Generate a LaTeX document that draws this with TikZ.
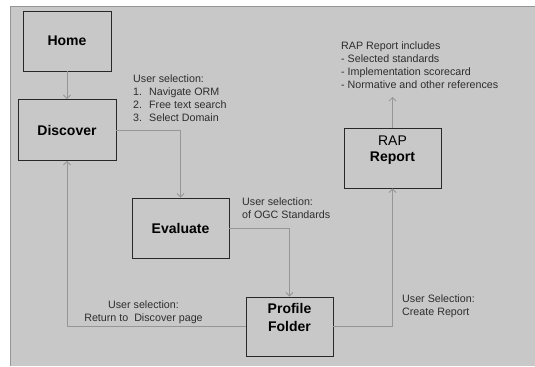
\documentclass[tikz,border=0pt]{standalone}
\usepackage{fontspec}
\setmainfont{Liberation Sans}
\usetikzlibrary{arrows.meta}
\definecolor{bg}{RGB}{200,200,200}
\definecolor{connc}{RGB}{150,150,150}
\definecolor{boxline}{RGB}{40,40,40}
\definecolor{frameline}{RGB}{150,150,150}
\definecolor{notec}{RGB}{45,45,45}
\begin{document}
\begin{tikzpicture}[x=1bp,y=-1bp,
  box/.style={draw=boxline, line width=0.9bp, fill=bg, inner sep=0pt},
  boxlabel/.style={font=\fontsize{14bp}{16bp}\selectfont\bfseries, align=center, inner sep=0pt, text=black},
  note/.style={font=\fontsize{10.7bp}{13bp}\selectfont, align=left, inner sep=0pt, anchor=base west, text=notec},
  conn/.style={draw=connc, line width=0.8bp, -{Straight Barb[length=3.5bp,width=7bp]}}
]
\useasboundingbox (0,0) rectangle (535,366);
\fill[white] (0,0) rectangle (535,366);
\fill[bg] (10,6) rectangle (535,366);
\draw[frameline, line width=0.9bp] (10,366) -- (10,6) -- (535,6);

% boxes
\node[box, minimum width=88bp, minimum height=60bp, boxlabel] (home) at (67,41) {Home};
\node[box, minimum width=98bp, minimum height=61bp, boxlabel] (disc) at (67,130) {Discover};
\node[box, minimum width=97bp, minimum height=60bp, boxlabel] (eval) at (180.5,228) {Evaluate};
\node[box, minimum width=87bp, minimum height=59bp] (pf) at (289.5,326.5) {};
\node[boxlabel, font=\fontsize{14bp}{18bp}\selectfont\bfseries] (pftext) at (289.5,317) {Profile\\Folder};
\node[box, minimum width=97bp, minimum height=60bp] (rap) at (392.5,158) {};
\node[boxlabel, font=\fontsize{14bp}{16bp}\selectfont] (raptext) at (392.5,150) {RAP\\\textbf{Report}};

% notes (anchor base = baseline of the last line)
\node[note] (n1) at (133,121) {User selection:\\\makebox[16bp][l]{1.}Navigate ORM\\\makebox[16bp][l]{2.}Free text search\\\makebox[16bp][l]{3.}Select Domain};
\node[note] (n2) at (341,88) {RAP Report includes\\- Selected standards\\- Implementation scorecard\\- Normative and other references};
\node[note] (n3) at (242,218) {User selection:\\of OGC Standards};
\node[note, align=center, anchor=base] (n4) at (143.5,321) {User selection:\\Return to\ \ Discover page};
\node[note] (n5) at (402,315) {User Selection:\\Create Report};

\coordinate (rn) at (392.5,97);

% connectors
\draw[conn] (home) -- (disc);
\draw[conn] (disc.east) -| (eval);
\draw[conn] (eval) -| (pf);
\draw[conn] (pf) -| (disc);
\draw[conn] (pf) -| (rap);
\draw[conn] (rap) -- (rn);
\end{tikzpicture}
\end{document}
